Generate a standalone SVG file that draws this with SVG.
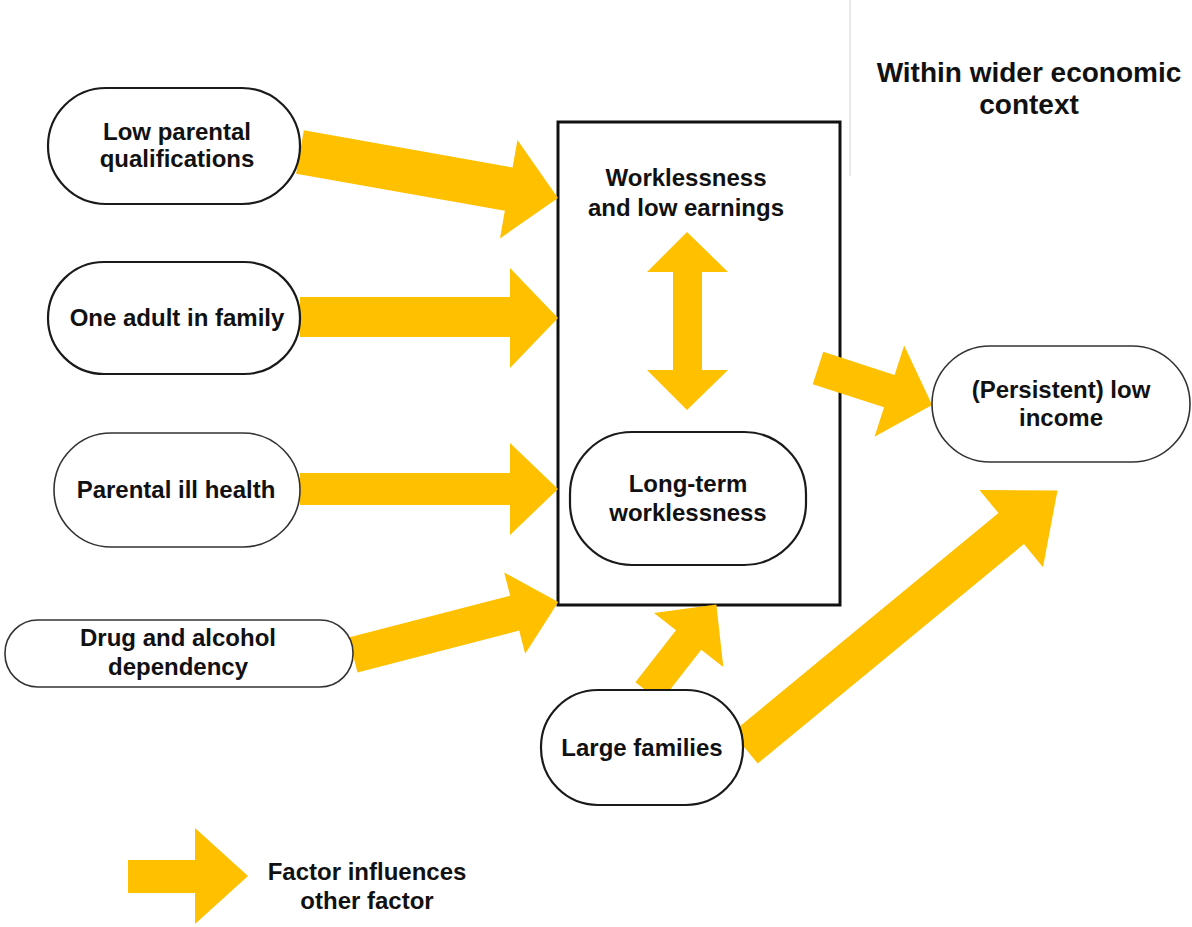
<svg xmlns="http://www.w3.org/2000/svg" width="1192" height="927" viewBox="0 0 1192 927">
<style>
.node{fill:#fff;stroke:#1a1a1a;stroke-width:2.2}
.node2{fill:#fff;stroke:#333;stroke-width:1.6}
.t{font-family:"Liberation Sans",Arial,sans-serif;font-weight:bold;font-size:24px;fill:#111;text-anchor:middle}
.arr{fill:#FFC000}
</style>
<rect width="1192" height="927" fill="#fff"/>
<line x1="850" y1="0" x2="850" y2="176" stroke="#e2e2e2" stroke-width="1.5"/>
<g id="context"><text class="t" x="1029" y="82" style="font-size:28px">Within wider economic</text><text class="t" x="1029" y="114" style="font-size:28px">context</text></g>
<g id="box"><rect x="558" y="122" width="282" height="483" fill="#fff" stroke="#111" stroke-width="3"/>
<text class="t" x="686" y="186">Worklessness</text><text class="t" x="686" y="216">and low earnings</text></g>
<g id="connectors">
<path class="arr" transform="translate(300,152) rotate(10.1)" d="M0,-22 L212,-22 L212,-50 L262,0 L212,50 L212,22 L0,22 Z"/>
<path class="arr" d="M300,297 L510,297 L510,268 L558,318 L510,368 L510,337 L300,337 Z"/>
<path class="arr" d="M300,473 L510,473 L510,443 L558,489 L510,535 L510,505 L300,505 Z"/>
<path class="arr" transform="translate(353,655) rotate(-14.5)" d="M0,-18 L167,-18 L167,-42 L212,0 L167,42 L167,18 L0,18 Z"/>
<path class="arr" transform="translate(818,368) rotate(18)" d="M0,-17 L75,-17 L75,-48 L120,0 L75,48 L75,17 L0,17 Z"/>
<path class="arr" transform="translate(745,748) rotate(-39.5)" d="M0,-20 L345,-20 L345,-50 L405,0 L345,50 L345,20 L0,20 Z"/>
<path class="arr" transform="translate(648,692) rotate(-52)" d="M0,-16 L66,-16 L66,-44 L111,0 L66,44 L66,16 L0,16 Z"/>
<path class="arr" d="M687,232 L728,272 L702,272 L702,370 L728,370 L687,410 L647,370 L673,370 L673,272 L647,272 Z"/>
</g>
<g id="n1"><rect class="node" x="48" y="88" width="252" height="116" rx="58"/><text class="t" x="177" y="140">Low parental</text><text class="t" x="177" y="167">qualifications</text></g>
<g id="n2"><rect class="node" x="48" y="262" width="252" height="112" rx="56"/><text class="t" x="177" y="326">One adult in family</text></g>
<g id="n3"><rect class="node2" x="54" y="433" width="246" height="114" rx="57"/><text class="t" x="176" y="498">Parental ill health</text></g>
<g id="n4"><rect class="node2" x="5" y="620" width="348" height="67" rx="33"/><text class="t" x="178" y="646">Drug and alcohol</text><text class="t" x="178" y="675">dependency</text></g>
<g id="n5"><rect class="node" x="570" y="432" width="236" height="133" rx="62"/><text class="t" x="688" y="492">Long-term</text><text class="t" x="688" y="521">worklessness</text></g>
<g id="n6"><rect class="node2" x="932" y="346" width="258" height="116" rx="58"/><text class="t" x="1061" y="398">(Persistent) low</text><text class="t" x="1061" y="426">income</text></g>
<g id="n7"><rect class="node" x="541" y="690" width="202" height="115" rx="57"/><text class="t" x="642" y="756">Large families</text></g>
<g id="legend"><path class="arr" d="M128,860 L195,860 L195,828 L248,876 L195,924 L195,893 L128,893 Z"/>
<text class="t" x="367" y="880">Factor influences</text><text class="t" x="367" y="909">other factor</text></g>
</svg>
